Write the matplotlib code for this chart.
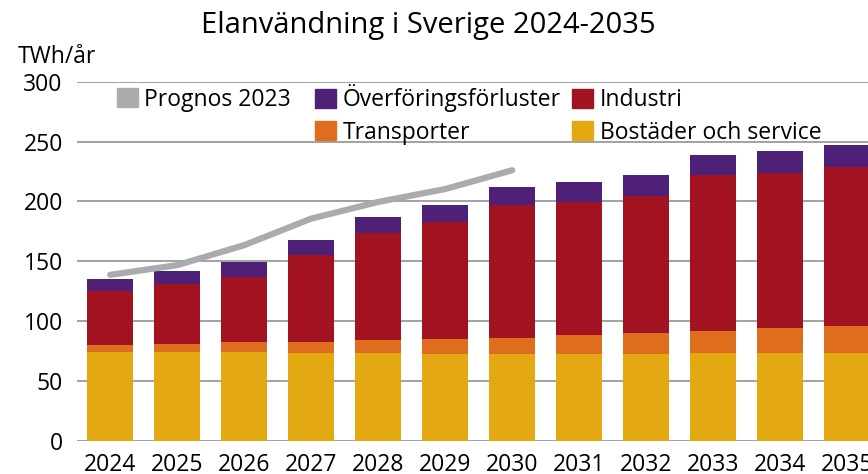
import numpy as np
import matplotlib
matplotlib.use('Agg')
import matplotlib.pyplot as plt
from matplotlib.patches import Patch

# %% Data (TWh/år):

years = ['2024', '2025', '2026', '2027', '2028', '2029',
         '2030', '2031', '2032', '2033', '2034', '2035']

bostader = [74.3, 74.3, 74.3, 73.2, 73.2, 72.4,
            72.4, 72.4, 72.4, 73.2, 73.2, 73.2]
transporter = [5.6, 6.7, 8.1, 9.2, 10.8, 12.5,
               13.3, 15.8, 17.5, 18.4, 20.9, 22.5]
industri = [45.1, 50.0, 54.2, 72.6, 89.4, 97.9,
            111.0, 111.3, 114.6, 130.2, 129.4, 132.8]
overforing = [10.0, 10.7, 12.6, 12.5, 13.3, 13.9,
              15.1, 16.5, 17.3, 16.7, 18.3, 19.0]

prognos_years = ['2024', '2025', '2026', '2027', '2028', '2029', '2030']
prognos_2023 = [138.6, 146.7, 163.4, 185.6, 199.5, 210.3, 226.0]

# %% Styling:

plt.rcParams['font.family'] = ['Open Sans', 'DejaVu Sans']

c_gray = '#AAABAF'
c_purple = '#4E2078'
c_red = '#A21220'
c_orange = '#DE6E1E'
c_yellow = '#E3A812'

# %% Plot:

fig = plt.figure(figsize=(8.68, 4.74), dpi=100)
ax = fig.add_axes([76.7/868, 33.3/474, 804/868, 359/474])

x = np.arange(len(years))
w = 0.69
b1 = np.array(bostader)
b2 = b1 + np.array(transporter)
b3 = b2 + np.array(industri)

ax.bar(x, bostader, w, color=c_yellow, zorder=2)
ax.bar(x, transporter, w, bottom=b1, color=c_orange, zorder=2)
ax.bar(x, industri, w, bottom=b2, color=c_red, zorder=2)
ax.bar(x, overforing, w, bottom=b3, color=c_purple, zorder=2)

xp = [years.index(y) for y in prognos_years]
ax.plot(xp, prognos_2023, color=c_gray, lw=4.5,
        solid_capstyle='round', solid_joinstyle='round', zorder=3)

ax.set_xlim(-0.5, len(years) - 0.5)
ax.set_ylim(0, 300)
ax.set_yticks(np.arange(0, 301, 50))
ax.set_xticks(x)
ax.set_xticklabels(years)
ax.tick_params(axis='both', length=0, labelsize=16.5)
ax.tick_params(axis='y', pad=10)
ax.tick_params(axis='x', pad=9)
ax.yaxis.grid(True, color='#9A9A9A', lw=1.3, zorder=1)
ax.set_axisbelow(True)
for s in ax.spines.values():
    s.set_visible(False)

fig.text(428/868, 1 - 26/474, 'Elanvändning i Sverige 2024-2035',
         ha='center', va='center', fontsize=21)
fig.text(18/868, 1 - 57/474, 'TWh/år', ha='left', va='center',
         fontsize=16.5)

# Legends: the line on its own, the stacked series in two columns
leg_kw = dict(frameon=False, fontsize=16.5, loc='upper left',
              handlelength=0.9, handleheight=0.9, handletextpad=0.3,
              labelspacing=0.37, borderpad=0, borderaxespad=0)
leg1 = ax.legend([Patch(color=c_gray)], ['Prognos 2023'],
                 bbox_to_anchor=(0.050, 0.983), **leg_kw)
ax.add_artist(leg1)
handles = [Patch(color=c_purple), Patch(color=c_orange),
           Patch(color=c_red), Patch(color=c_yellow)]
labels = ['Överföringsförluster', 'Transporter',
          'Industri', 'Bostäder och service']
ax.legend(handles, labels, ncol=2, columnspacing=0.5,
          bbox_to_anchor=(0.2964, 0.9926), **leg_kw)

fig.savefig('out.png', dpi=100)
